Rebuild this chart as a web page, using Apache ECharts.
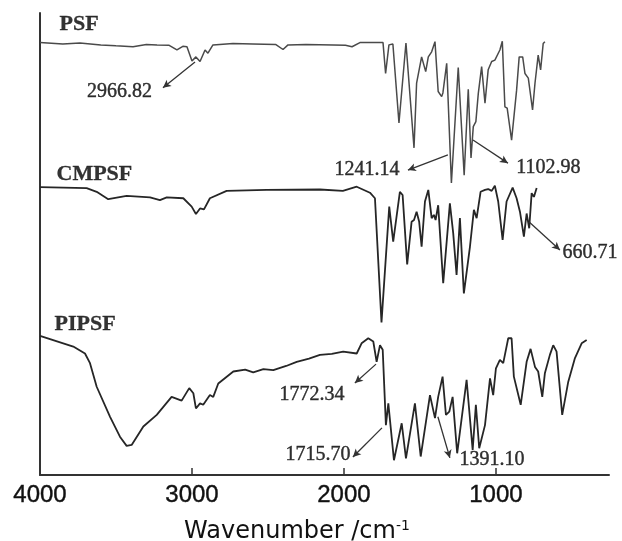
<!DOCTYPE html>
<html><head><meta charset="utf-8">
<script src="https://cdn.jsdelivr.net/npm/echarts@6/dist/echarts.min.js"></script>
<style>html,body{margin:0;padding:0;background:#fff}#c{width:622px;height:541px}</style>
</head><body><div id="c"></div>
<script>
// Wavenumber (cm-1) / offset transmittance (a.u.) pairs
const psf = [[4000,93.6],[3850,93.3],[3737,93.5],[3600,93.1],[3500,92.9],[3388,92.7],[3300,93.2],[3230,93.1],[3150,93.0],[3099,92.0],[3060,92.8],[3033,92.7],[3000,89.6],[2974,90.5],[2947,89.5],[2914,92.0],[2895,91.3],[2862,93.1],[2730,93.4],[2600,93.3],[2450,93.2],[2401,92.1],[2368,93.1],[2250,93.2],[2072,93.1],[1990,93.0],[1947,92.7],[1895,93.6],[1743,93.6],[1726,86.9],[1704,93.1],[1678,93.3],[1638,76.2],[1592,93.5],[1579,93.1],[1539,70.8],[1522,84.8],[1489,90.5],[1478,90.3],[1462,87.3],[1445,90.5],[1423,91.6],[1401,93.8],[1380,83.0],[1368,83.3],[1357,81.9],[1349,82.7],[1324,89.1],[1293,63.2],[1248,88.2],[1209,64.9],[1182,83.5],[1164,68.6],[1149,75.4],[1132,76.5],[1116,82.6],[1094,88.4],[1072,80.5],[1051,87.7],[1028,89.5],[1007,89.8],[974,92.0],[958,93.9],[941,79.7],[926,79.4],[897,72.5],[864,83.3],[847,90.5],[824,90.5],[809,86.9],[787,85.9],[776,85.7],[759,79.0],[743,84.8],[722,90.9],[706,87.7],[689,93.4],[678,93.8]];
const cmpsf = [[4000,62.3],[3693,62.1],[3627,61.3],[3551,59.7],[3430,60.4],[3276,60.1],[3211,59.5],[3166,60.1],[3057,59.9],[3002,58.1],[2974,56.5],[2947,57.7],[2921,57.5],[2882,59.9],[2772,61.5],[2509,61.7],[2158,61.8],[2007,61.5],[1916,62.4],[1829,61.1],[1796,59.9],[1785,59.5],[1753,33.0],[1702,58.1],[1676,50.5],[1632,61.3],[1614,60.6],[1584,45.6],[1555,54.8],[1539,55.2],[1522,57.0],[1505,54.8],[1489,49.4],[1467,59.2],[1445,61.7],[1423,55.6],[1408,56.3],[1397,55.2],[1380,58.4],[1347,41.5],[1303,58.8],[1281,52.3],[1259,43.3],[1237,55.6],[1211,39.3],[1171,49.4],[1145,57.4],[1127,55.6],[1101,61.3],[1072,61.7],[1051,61.9],[1028,61.5],[1007,62.6],[985,59.2],[956,50.9],[930,59.2],[890,62.2],[864,59.9],[842,57.0],[816,51.6],[798,56.6],[781,53.4],[765,61.0],[750,60.2],[732,62.1]];
const pipsf = [[4000,30.1],[3781,27.8],[3704,26.3],[3671,24.2],[3627,19.1],[3539,12.6],[3474,8.3],[3430,6.3],[3397,6.5],[3320,10.5],[3232,13.0],[3134,16.9],[3068,16.1],[3018,18.8],[2991,17.7],[2974,14.4],[2947,15.5],[2926,15.2],[2882,17.3],[2860,16.9],[2827,19.8],[2728,22.4],[2650,22.8],[2597,22.2],[2530,22.9],[2465,22.7],[2380,23.6],[2311,24.5],[2230,25.2],[2158,26.0],[2080,26.2],[2005,26.7],[1916,26.3],[1884,28.5],[1840,29.6],[1807,28.9],[1785,24.5],[1763,28.1],[1745,27.1],[1724,10.8],[1708,15.5],[1671,3.2],[1620,11.2],[1592,3.6],[1533,15.5],[1495,4.0],[1434,17.3],[1401,12.3],[1380,16.9],[1351,21.3],[1329,13.0],[1307,13.7],[1285,16.9],[1255,4.7],[1193,20.6],[1153,5.4],[1132,15.2],[1110,5.8],[1072,10.8],[1039,20.9],[1018,17.3],[1000,23.1],[974,24.9],[952,24.2],[919,29.6],[897,29.6],[882,21.3],[837,15.2],[798,24.5],[772,27.3],[743,23.4],[722,22.4],[710,22.0],[695,16.9],[678,22.0],[645,26.0],[623,28.1],[601,26.7],[564,13.0],[524,20.2],[480,25.3],[436,28.5],[403,29.2]];

const xTickLabels = [4000, 3000, 2000, 1000];
const seriesNames = ['PSF', 'CMPSF', 'PIPSF'];
const seriesNameAt = [[3868,97.4],[3888,64.9],[3901,32.5]];

const peakLabels = ['2966.82','1241.14','1102.98','660.71','1772.34','1715.70','1391.10'];
const peakArrowFrom = [[2980,89.4],[1316,69.3],[1151,72.5],[783,54.8],[1789,24.0],[1750,10.2],[1382,12.6]];
const peakArrowTo = [[3191,83.8],[1579,66.0],[921,67.5],[579,48.7],[1928,19.9],[1941,3.9],[1303,3.7]];
const peakLabelAt = [[3474,82.9],[1845,66.0],[651,66.5],[377,48.1],[2207,17.3],[2168,4.3],[1023,3.2]];

const ink = '#262626';
const chart = echarts.init(document.getElementById('c'), null, {renderer:'canvas'});
const traceSeries = [psf, cmpsf, pipsf].map((d, i) => ({
  type:'line', name:seriesNames[i], data:d, showSymbol:false, symbol:'none', silent:true,
  lineStyle:{color: i===0 ? '#4a4a4a' : ink, width: i===0 ? 1.5 : 1.8}
}));
chart.setOption({
  animation:false,
  grid:{left:40, right:13, top:13, bottom:66, outerBoundsMode:'none', containLabel:false},
  xAxis:{
    type:'value', inverse:true, min:256, max:4000,
    axisLine:{show:true, onZero:false, lineStyle:{color:'#333', width:2}},
    axisTick:{show:true, inside:true, length:7, customValues:[3000,2000,1000], lineStyle:{color:'#333', width:1.5}},
    axisLabel:{customValues:xTickLabels, formatter:v => String(v), fontFamily:'Liberation Sans', fontSize:24, color:'#111', margin:8,
      textBorderColor:'#111', textBorderWidth:0.4},
    splitLine:{show:false},
    name:'Wavenumber /cm{sup|-1}', nameLocation:'middle', nameGap:44,
    nameTextStyle:{fontFamily:'DejaVu Sans', fontSize:24, color:'#111', padding:[0,55,0,0],
      rich:{sup:{fontFamily:'DejaVu Sans', fontSize:14, color:'#111', padding:[0,0,12,0]}}}
  },
  yAxis:{type:'value', min:0, max:100,
    axisLine:{show:true, lineStyle:{color:'#333', width:2}},
    axisTick:{show:false}, axisLabel:{show:false}, splitLine:{show:false}},
  series:[
    ...traceSeries,
    {
      type:'scatter', silent:true, symbolSize:1, itemStyle:{color:'rgba(0,0,0,0)'},
      data: seriesNames.map((n, i) => ({value:seriesNameAt[i], label:{formatter:n}})),
      label:{show:true, position:[0,0], align:'left', verticalAlign:'middle',
        fontFamily:'Liberation Serif', fontWeight:'bold', fontSize:22, color:'#000',
        textBorderColor:'#000', textBorderWidth:0.3}
    },
    {
      type:'scatter', silent:true, symbolSize:1, itemStyle:{color:'rgba(0,0,0,0)'},
      data: peakLabels.map((t, i) => ({value:peakLabelAt[i], label:{formatter:t}})),
      label:{show:true, position:[0,0], align:'center', verticalAlign:'middle',
        fontFamily:'Liberation Serif', fontSize:20, color:'#000',
        textBorderColor:'#000', textBorderWidth:0.4},
      markLine:{
        silent:true, animation:false, symbol:['none','arrow'], symbolSize:[6,8],
        label:{show:false},
        lineStyle:{type:'solid', color:'#333', width:1.3},
        emphasis:{disabled:true},
        data: peakLabels.map((t, i) => [{coord:peakArrowFrom[i]}, {coord:peakArrowTo[i]}])
      }
    }
  ]
});
</script>
</body></html>
